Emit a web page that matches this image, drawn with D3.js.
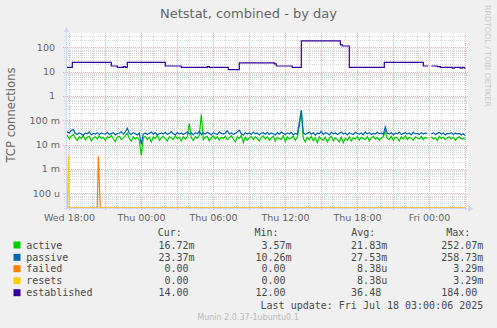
<!DOCTYPE html>
<html>
<head>
<meta charset="utf-8">
<script src="https://cdn.jsdelivr.net/npm/d3@7"></script>
<style>
body { margin: 0; background: #f0f0f0; }
svg text { font-family: "DejaVu Sans", sans-serif; }
svg text.mono { font-family: "DejaVu Sans Mono", monospace; white-space: pre; }
</style>
</head>
<body>
<svg id="chart" width="497" height="328"></svg>
<script>
// samples every 10 minutes starting Wed Jul 16 17:40:06, values in milli connections
var sampleStart = new Date(2025, 6, 16, 17, 40, 6);
var sampleEnd = new Date(2025, 6, 18, 3, 0, 6);

var activeMilli = [
  20,24,17,22,26,19,15,21,18,23,16,20,22,14,19,21,17,23,18,20,
  15,21,19,24,17,13,20,22,16,19,23,30,18,14,21,17,20,15,3.57,19,
  22,16,20,13,21,18,24,15,19,22,17,14,21,19,16,23,18,20,14,21,
  17,22,73,19,15,21,18,24,175,16,20,22,14,19,23,17,21,15,20,18,
  22,16,19,23,17,13,21,18,24,12,20,15,19,22,16,21,18,14,20,23,
  17,21,15,19,22,14,20,18,16,23,13,21,17,19,22,15,20,60,252,18,
  13,20,16,22,14,19,12,21,17,15,20,13,18,22,14,19,16,13,20,12,
  18,15,21,14,19,17,22,15,20,18,16,21,14,19,22,17,20,15,19,21,
  35,18,16,22,15,20,19,14,21,17,23,16,20,18,15,21,19,17,22,16,
  20,18,null,21,17,19,15,22,18,20,16,19,21,17,20,15,19,21,17,18,16.72
];
var passiveMilli = [
  28,33,30,38,42,29,26,31,27,24,30,28,33,25,29,27,31,26,30,28,
  27,32,26,29,31,25,28,30,34,27,33,47,29,26,31,28,25,30,10.3,27,
  30,26,29,33,27,31,25,28,30,27,32,26,29,34,28,25,31,27,30,26,
  29,33,27,30,25,31,28,35,26,30,27,32,29,25,31,28,26,33,29,27,
  30,37,27,31,26,29,33,39,28,25,31,27,30,26,33,28,30,25,29,31,
  27,32,26,30,28,25,31,27,33,29,26,30,28,32,25,29,27,80,259,31,
  26,29,33,27,31,24,30,28,35,26,31,29,25,32,28,30,26,29,33,27,
  30,25,31,28,26,32,29,27,30,25,33,28,31,26,29,27,32,28,30,26,
  53,29,27,31,25,30,28,33,26,29,31,27,30,25,32,28,29,26,31,27,
  30,28,null,27,31,26,29,32,27,30,25,29,28,31,26,30,27,29,25,28,23.37
];
// [5-minute slot, value]
var failedPoints = [[0,0],[32,0],[33,0.00329],[35,0],[400,0]];
var resetsPoints = [[0,0],[2,0],[3,0.00329],[4,0],[400,0]];
var establishedSteps = [
  [0,15],[7,24],[46,17],[52,15],[58,16],[60,15],[62,24],[100,17],[116,15],
  [142,16],[144,15],[163,12],[174,23],[209,21],[211,17],[227,15],[236,184],
  [275,125],[277,113],[284,15],[319,24],[358,17],[363,17],[364,null],[366,17],
  [372,16],[375,15],[387,14],[389,15],[395,14],[397,15],[399,14],[400,14]
];

var yTickValues = [100, 10, 1, 0.1, 0.01, 0.001, 0.0001];
var yTickLabels = ["100", "10", "1", "100 m", "10 m", "1 m", "100 u"];

var legendNames = ["active", "passive", "failed", "resets", "established"];
var legendColors = ["#00cc00", "#0066b3", "#ff8000", "#ffcc00", "#330099"];
var curVals = ["16.72m", "23.37m", "0.00 ", "0.00 ", "14.00 "];
var minVals = ["3.57m", "10.26m", "0.00 ", "0.00 ", "12.00 "];
var avgVals = ["21.83m", "27.53m", "8.38u", "8.38u", "36.48 "];
var maxVals = ["252.07m", "258.73m", "3.29m", "3.29m", "184.00 "];

var svg = d3.select("#chart");
var pL = 66, pR = 468, pT = 33, pB = 208;
var tenMin = 10 * 60 * 1000, fiveMin = 5 * 60 * 1000;

var x = d3.scaleTime().domain([sampleStart, sampleEnd]).range([65.3, 465.3]);
var y = d3.scaleLog().domain([2.48e-5, 387]).range([pB, pT]);
var yMin = y.domain()[0];

svg.append("rect").attr("width", 497).attr("height", 328).attr("fill", "#f0f0f0");
svg.append("rect").attr("x", pL).attr("y", pT).attr("width", pR - pL).attr("height", pB - pT).attr("fill", "#fff");

function px(v) { return Math.round(v) + 0.5; }

// grid
var hours = d3.timeHour.range(sampleStart, sampleEnd);
var majorHours = hours.filter(function (d) { return d.getHours() % 3 === 0; });
var labelHours = hours.filter(function (d) { return d.getHours() % 6 === 0; });
var minorY = [];
for (var e = -5; e <= 2; e++) {
  for (var k = 2; k <= 9; k++) {
    var v = k * Math.pow(10, e);
    if (v > yMin && v < y.domain()[1]) minorY.push(v);
  }
}

var minorColor = "#d9d9d9", majorColor = "#f2adad";
var grid = svg.append("g");
grid.selectAll(".vminor").data(hours).enter().append("line")
  .attr("x1", function (d) { return px(x(d)); }).attr("x2", function (d) { return px(x(d)); })
  .attr("y1", pT).attr("y2", pB + 2)
  .attr("stroke", minorColor).attr("stroke-dasharray", "1,1");
grid.selectAll(".hminor").data(minorY).enter().append("line")
  .attr("x1", pL - 2).attr("x2", pR)
  .attr("y1", function (d) { return px(y(d)); }).attr("y2", function (d) { return px(y(d)); })
  .attr("stroke", minorColor).attr("stroke-dasharray", "1,1");
grid.selectAll(".vmajor").data(majorHours).enter().append("line")
  .attr("x1", function (d) { return px(x(d)); }).attr("x2", function (d) { return px(x(d)); })
  .attr("y1", pT).attr("y2", pB + 3)
  .attr("stroke", majorColor).attr("stroke-dasharray", "1,1");
grid.selectAll(".hmajor").data(yTickValues).enter().append("line")
  .attr("x1", pL - 3).attr("x2", pR)
  .attr("y1", function (d) { return px(y(d)); }).attr("y2", function (d) { return px(y(d)); })
  .attr("stroke", majorColor).attr("stroke-dasharray", "1,1");

// series
svg.append("clipPath").attr("id", "clip").append("rect")
  .attr("x", pL).attr("y", pT - 2).attr("width", pR - pL).attr("height", pB - pT + 2.5);
var plot = svg.append("g").attr("clip-path", "url(#clip)");

var line10 = d3.line()
  .defined(function (d) { return d != null; })
  .x(function (d, i) { return x(new Date(+sampleStart + i * tenMin)); })
  .y(function (d) { return y(Math.max(d / 1000, yMin)); });
var lineSparse = d3.line()
  .x(function (d) { return x(new Date(+sampleStart + d[0] * fiveMin)); })
  .y(function (d) { return Math.min(y(Math.max(d[1], yMin)), pB); });
var lineSteps = d3.line()
  .defined(function (d) { return d[1] != null; })
  .curve(d3.curveStepAfter)
  .x(function (d) { return x(new Date(+sampleStart + d[0] * fiveMin)); })
  .y(function (d) { return y(d[1]); });

var sw = 1.2;
plot.append("path").attr("d", line10(activeMilli)).attr("fill", "none").attr("stroke", legendColors[0]).attr("stroke-width", sw);
plot.append("path").attr("d", line10(passiveMilli)).attr("fill", "none").attr("stroke", legendColors[1]).attr("stroke-width", sw);
plot.append("path").attr("d", lineSparse(failedPoints)).attr("fill", "none").attr("stroke", legendColors[2]).attr("stroke-width", sw);
plot.append("path").attr("d", lineSparse(resetsPoints)).attr("fill", "none").attr("stroke", legendColors[3]).attr("stroke-width", sw);
plot.append("path").attr("d", lineSteps(establishedSteps)).attr("fill", "none").attr("stroke", legendColors[4]).attr("stroke-width", sw);

// axes
var axisColor = "#cfd6f8";
svg.append("line").attr("x1", pL + 0.5).attr("x2", pL + 0.5).attr("y1", pB + 2).attr("y2", 29).attr("stroke", axisColor);
svg.append("line").attr("x1", pL - 2).attr("x2", 470).attr("y1", pB + 0.5).attr("y2", pB + 0.5).attr("stroke", axisColor);
svg.append("path").attr("d", "M64,32L69,32L66.5,26.5Z").attr("fill", axisColor);
svg.append("path").attr("d", "M468,205.5L468,211.5L473.5,208.5Z").attr("fill", axisColor);

// tick labels
svg.selectAll(".ylab").data(yTickValues).enter().append("text")
  .attr("x", function (d, i) { return yTickLabels[i].indexOf(" ") > 0 ? 60 : 55; })
  .attr("y", function (d) { return y(d) + 3.5; })
  .attr("text-anchor", "end").attr("font-size", 9.5).attr("fill", "#666")
  .text(function (d, i) { return yTickLabels[i]; });
var fmt = d3.timeFormat("%a %H:%M");
svg.selectAll(".xlab").data(labelHours).enter().append("text")
  .attr("x", function (d) { return px(x(d)); }).attr("y", 220.5)
  .attr("text-anchor", "middle").attr("font-size", 9.5).attr("fill", "#666")
  .text(function (d) { return fmt(d); });

// titles
svg.append("text").attr("x", 248.5).attr("y", 18.3).attr("text-anchor", "middle")
  .attr("font-size", 13).attr("fill", "#666").text("Netstat, combined - by day");
svg.append("text").attr("transform", "translate(15,115) rotate(-90)").attr("text-anchor", "middle")
  .attr("font-size", 11.6).attr("fill", "#666").text("TCP connections");
svg.append("text").attr("transform", "translate(485,5) rotate(90)")
  .attr("font-size", 7.9).attr("fill", "#c8c8c8").text("RRDTOOL / TOBI OETIKER");

// legend
var legFont = 10, cw = 6.02;
var rowY = [248.5, 260.8, 272.2, 284.2, 296.2];
var colRight = [194.5, 291.5, 387.2, 483.3];
var headers = ["Cur:", "Min:", "Avg:", "Max:"];
var headerX = [157.8, 254.5, 351.2, 446.2];
var leg = svg.append("g").attr("fill", "#4a4a4a");
headers.forEach(function (h, i) {
  leg.append("text").attr("class", "mono").attr("x", headerX[i]).attr("y", 235.8).attr("font-size", legFont).text(h);
});
legendNames.forEach(function (n, r) {
  leg.append("rect").attr("x", 13.5).attr("y", rowY[r] - 7).attr("width", 7).attr("height", 7).attr("fill", legendColors[r]);
  leg.append("text").attr("class", "mono").attr("x", 26.2).attr("y", rowY[r]).attr("font-size", legFont).text(n);
  [curVals, minVals, avgVals, maxVals].forEach(function (col, c) {
    var s = col[r];
    leg.append("text").attr("class", "mono").attr("x", colRight[c] - s.length * cw)
      .attr("y", rowY[r]).attr("font-size", legFont).text(s);
  });
});
var lu = "Last update: Fri Jul 18 03:00:06 2025";
leg.append("text").attr("class", "mono").attr("x", 483.3 - lu.length * cw).attr("y", 308.5).attr("font-size", legFont).text(lu);
svg.append("text").attr("x", 248).attr("y", 319.5).attr("text-anchor", "middle")
  .attr("font-size", 8).attr("fill", "#bbb").text("Munin 2.0.37-1ubuntu0.1");
</script>
</body>
</html>
